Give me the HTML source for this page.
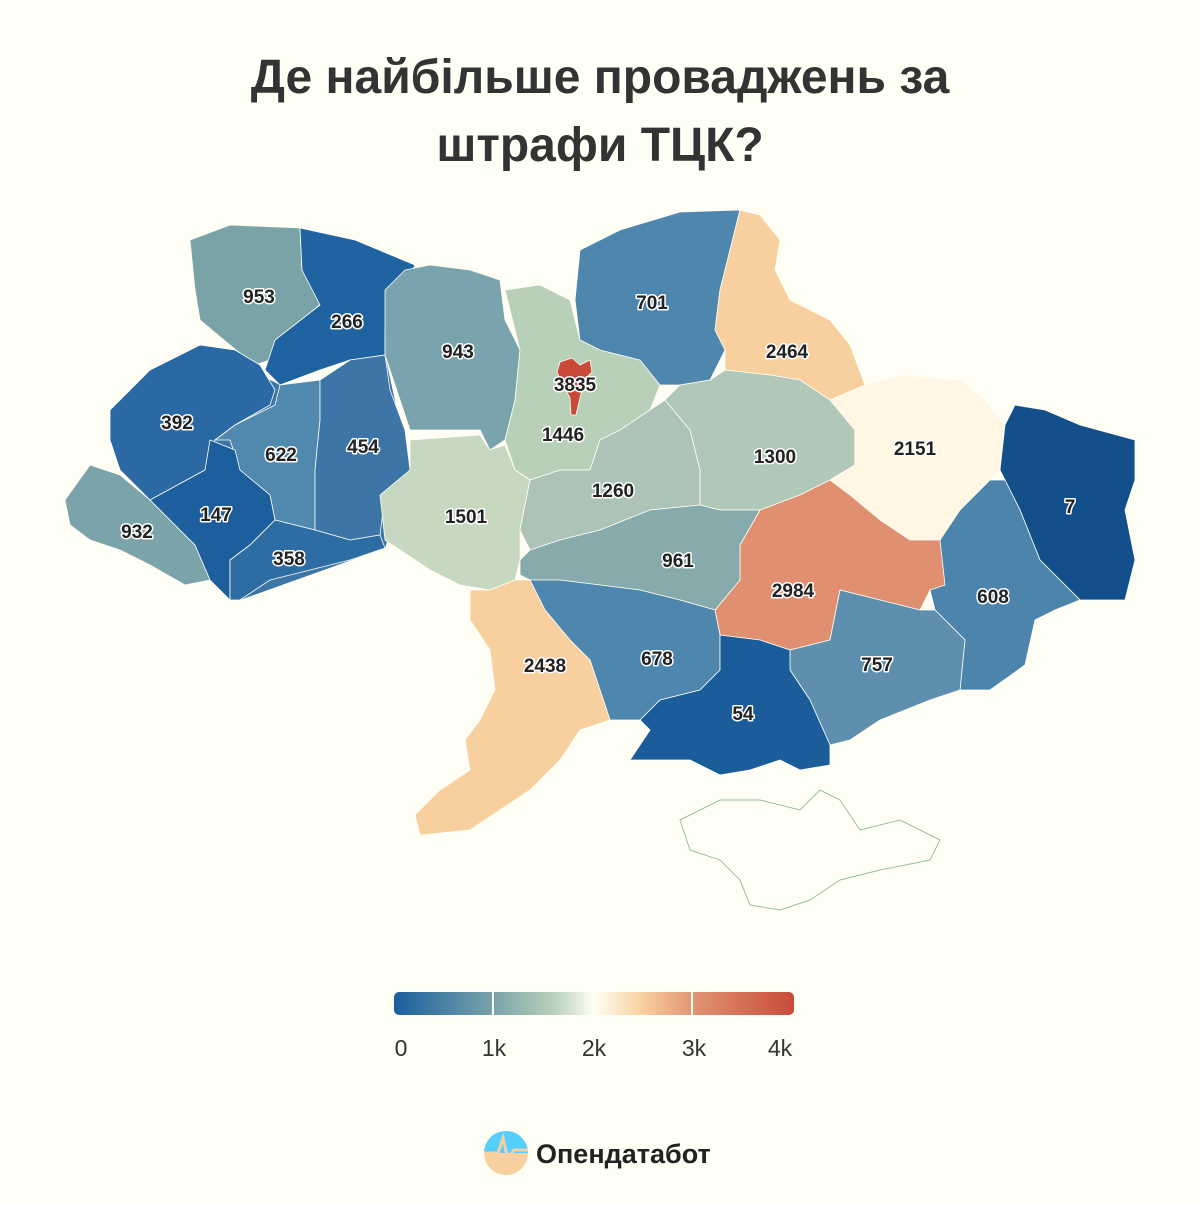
<!DOCTYPE html>
<html><head><meta charset="utf-8"><style>
body{margin:0;background:#fffef5;width:1200px;height:1200px;overflow:hidden;font-family:"Liberation Sans",sans-serif}
</style></head><body>
<svg width="1200" height="1200" viewBox="0 0 1200 1200" xmlns="http://www.w3.org/2000/svg">
<defs>
<linearGradient id="lg" x1="0" x2="1">
<stop offset="0" stop-color="#1a5f9e"/><stop offset="0.25" stop-color="#7aa4aa"/><stop offset="0.4" stop-color="#b8d0b8"/><stop offset="0.5" stop-color="#fffef5"/><stop offset="0.62" stop-color="#f8d0a0"/><stop offset="0.75" stop-color="#e09474"/><stop offset="1" stop-color="#c94a3b"/>
</linearGradient>
</defs>
<text x="600" y="93" text-anchor="middle" font-size="48" font-weight="bold" fill="#333">Де найбільше проваджень за</text>
<text x="600" y="161" text-anchor="middle" font-size="48" font-weight="bold" fill="#333">штрафи ТЦК?</text>
<polygon fill="#3c75a6" points="200,345 280,385 320,380 385,355 410,470 385,548 240,600 150,500"/>
<g stroke="#fffef5" stroke-width="0.8" stroke-linejoin="round">
<polygon fill="#7aa3a8" points="190,240 230,225 300,228 302,270 325,300 285,335 270,360 255,365 230,345 200,320 195,290"/>
<polygon fill="#1f64a0" points="300,228 355,240 415,265 385,330 385,355 350,360 320,370 280,385 265,370 275,340 320,305 302,270"/>
<polygon fill="#2a69a3" points="110,410 150,370 200,345 235,350 260,365 275,390 270,405 235,425 215,440 205,470 150,500 120,470 110,440"/>
<polygon fill="#5188ad" points="215,440 235,425 275,405 280,385 320,380 320,420 315,470 315,530 275,520 270,495 240,470 230,440"/>
<polygon fill="#3c75a6" points="320,380 350,360 385,355 390,390 405,430 410,470 385,495 380,535 350,540 315,530 315,470 320,420"/>
<polygon fill="#7aa3aa" points="65,500 90,465 120,475 150,500 175,525 195,545 210,580 185,585 150,565 120,550 90,540 70,525"/>
<polygon fill="#1c5f9c" points="150,500 205,470 210,440 235,450 240,470 270,495 275,520 250,545 230,560 230,600 210,580 195,545 175,525"/>
<polygon fill="#2e6da4" points="230,560 250,545 275,520 315,530 350,540 380,535 385,548 350,560 310,570 270,580 240,600 230,600"/>
<polygon fill="#7aa4ad" points="385,290 405,270 430,265 470,270 500,280 505,320 520,350 515,400 505,440 490,450 480,430 410,430 400,400 385,355"/>
<polygon fill="#b8d0b8" points="505,290 540,285 570,300 580,340 600,350 640,360 660,385 650,410 620,430 600,440 590,470 560,470 530,480 515,470 505,440 515,400 520,350"/>
<polygon fill="#4f86ad" points="580,250 620,230 680,212 740,210 730,250 720,290 715,330 725,350 710,380 680,385 660,385 640,360 600,350 580,340 575,300"/>
<polygon fill="#f8d0a0" points="740,210 760,215 780,240 775,270 790,300 830,320 850,345 865,385 830,400 800,380 770,375 725,370 725,350 715,330 720,290 730,250"/>
<polygon fill="#c7d8c0" points="410,440 480,435 490,450 505,445 515,470 530,480 520,530 520,560 515,580 490,590 460,585 430,570 400,550 385,540 380,495 410,470"/>
<polygon fill="#aec3b8" points="530,480 560,470 590,470 600,440 620,430 650,410 665,400 690,430 700,470 700,505 650,510 600,530 560,540 530,550 520,530"/>
<polygon fill="#b1c8b8" points="665,400 680,385 710,380 725,370 770,375 800,380 830,400 855,430 855,465 830,480 800,495 760,510 720,510 700,505 700,470 690,430"/>
<polygon fill="#fff6e3" points="830,400 865,385 900,375 960,380 985,400 1005,425 1000,470 990,480 960,510 940,540 910,540 880,520 850,495 830,480 855,465 855,430"/>
<polygon fill="#134f8a" points="1015,405 1045,410 1080,425 1135,440 1135,480 1125,510 1135,560 1125,600 1080,600 1060,580 1040,560 1020,510 1005,480 1000,470 1005,425"/>
<polygon fill="#4d84ac" points="940,540 960,510 990,480 1005,480 1020,510 1040,560 1060,580 1080,600 1055,610 1035,620 1025,665 990,690 960,690 965,640 935,610 930,590"/>
<polygon fill="#e09070" points="760,510 800,495 830,480 850,495 880,520 910,540 940,540 945,585 930,590 920,610 880,600 840,590 830,640 790,650 760,640 720,635 715,610 740,580 740,545"/>
<polygon fill="#87aaad" points="520,560 530,550 560,540 600,530 650,510 700,505 720,510 760,510 740,545 740,580 715,610 680,600 640,590 600,585 560,580 530,580 520,575"/>
<polygon fill="#5e8fae" points="790,650 830,640 840,590 880,600 920,610 935,610 965,640 960,690 930,700 880,720 850,740 830,745 810,700 790,670"/>
<polygon fill="#4f86ad" points="530,580 560,580 600,585 640,590 680,600 715,610 720,635 720,670 700,690 660,700 640,720 610,720 600,690 590,660 570,640 545,610"/>
<polygon fill="#f8cf9e" points="470,590 490,590 515,580 530,580 545,610 570,640 590,660 600,690 610,720 580,730 560,760 530,790 500,810 470,830 420,835 415,815 440,790 470,770 465,740 480,720 495,690 490,650 470,620"/>
<polygon fill="#1b5d9a" points="720,635 760,640 790,650 790,670 810,700 830,745 830,765 800,770 780,760 750,770 720,775 690,760 650,760 630,760 650,730 640,720 660,700 700,690 720,670"/>
<polygon fill="#c94a3b" points="560,362 572,358 580,365 590,360 592,372 584,380 580,398 576,415 571,415 570,398 563,385 557,372"/>
</g>
<polygon fill="#fffef5" stroke="#9bbf9b" stroke-width="1" points="680,820 720,800 760,800 800,810 820,790 840,800 860,830 900,820 940,840 930,860 880,870 840,880 810,900 780,910 750,905 740,880 720,860 690,850"/>
<g font-size="19" font-weight="bold" fill="#222" stroke="#fff" stroke-width="3" paint-order="stroke" text-anchor="middle" stroke-linejoin="round">
<text x="259" y="303">953</text><text x="347" y="328">266</text><text x="458" y="358">943</text>
<text x="652" y="309">701</text><text x="787" y="358">2464</text><text x="575" y="391">3835</text>
<text x="177" y="429">392</text><text x="281" y="461">622</text><text x="363" y="453">454</text>
<text x="563" y="441">1446</text><text x="775" y="463">1300</text><text x="915" y="455">2151</text>
<text x="1070" y="513">7</text><text x="137" y="538">932</text><text x="216" y="521">147</text>
<text x="289" y="565">358</text><text x="466" y="523">1501</text><text x="613" y="497">1260</text>
<text x="678" y="567">961</text><text x="793" y="597">2984</text><text x="993" y="603">608</text>
<text x="545" y="672">2438</text><text x="657" y="665">678</text><text x="877" y="671">757</text>
<text x="743" y="720">54</text>
</g>
<rect x="394" y="992" width="400" height="23" rx="5" fill="url(#lg)"/>
<g stroke="#fffef5" stroke-width="2"><line x1="493" y1="992" x2="493" y2="1015"/><line x1="692" y1="992" x2="692" y2="1015"/></g>
<g font-size="23" fill="#333" text-anchor="middle">
<text x="401" y="1056">0</text><text x="494" y="1056">1k</text><text x="594" y="1056">2k</text><text x="694" y="1056">3k</text><text x="780" y="1056">4k</text>
</g>
<clipPath id="cc"><circle cx="506" cy="1153" r="22"/></clipPath>
<g clip-path="url(#cc)"><rect x="484" y="1131" width="44" height="44" fill="#f8cf9e"/><rect x="484" y="1131" width="44" height="22" fill="#55cfff"/><polyline points="484,1153 498,1153 503,1138 508,1160 514,1150 528,1150" fill="none" stroke="#f8cf9e" stroke-width="3"/></g>
<text x="536" y="1163" font-size="27" font-weight="bold" fill="#222">Опендатабот</text>
</svg>
</body></html>
